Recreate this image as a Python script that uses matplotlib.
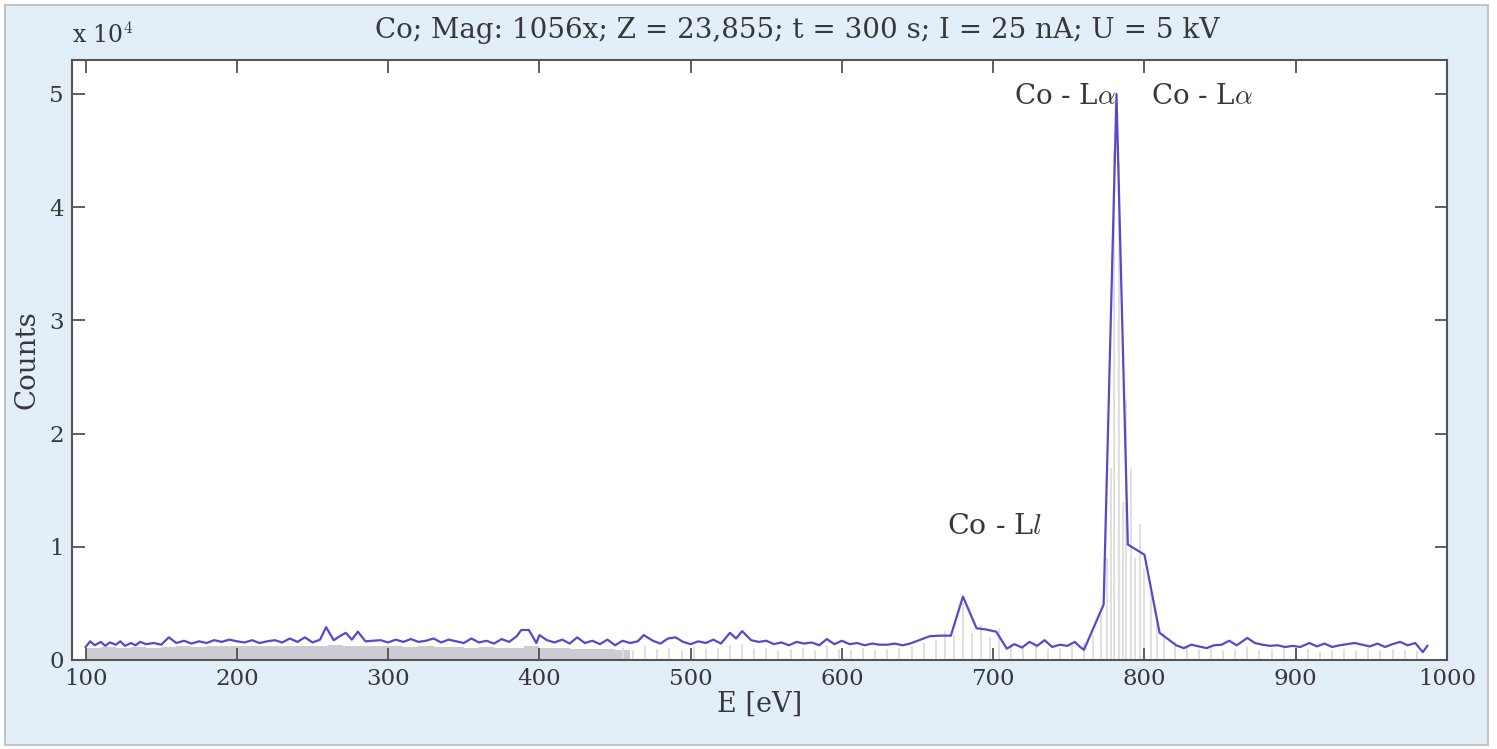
import matplotlib
matplotlib.use("Agg")
import matplotlib.pyplot as plt
from matplotlib.patches import Rectangle

# smoothed spectrum (blue line), energy in eV and counts
energy = [100, 103, 106, 110, 113, 116, 120, 123, 126, 130, 133, 136, 140, 145, 150, 155,
          160, 165, 170, 175, 180, 185, 190, 195, 200, 205, 210, 215, 220, 225, 230, 235,
          240, 245, 250, 255, 259, 264, 268, 272, 276, 280, 285, 290, 295, 300, 305, 310,
          315, 320, 325, 330, 335, 340, 345, 350, 355, 360, 365, 370, 375, 380, 385, 388,
          393, 398, 400, 405, 410, 415, 420, 425, 430, 435, 440, 445, 450, 455, 460, 465,
          469, 475, 480, 485, 490, 495, 500, 505, 510, 515, 520, 526, 530, 534, 540, 545,
          550, 555, 560, 565, 570, 575, 580, 585, 590, 595, 600, 605, 610, 615, 620, 625,
          630, 635, 640, 645, 650, 658, 665, 672, 680, 689, 695, 702, 709, 714, 719, 724,
          729, 734, 739, 744, 749, 754, 757, 760, 773, 781.5, 789, 800, 810, 815, 821, 826,
          831, 836, 841, 846, 851, 856, 861, 868, 873, 878, 883, 888, 893, 898, 903, 909,
          914, 919, 924, 929, 934, 939, 944, 949, 954, 959, 964, 969, 974, 979, 984, 987]
counts = [1150, 1650, 1300, 1600, 1250, 1550, 1350, 1650, 1250, 1500, 1300, 1600, 1400, 1500, 1350, 2000,
          1500, 1700, 1450, 1650, 1500, 1750, 1600, 1800, 1650, 1550, 1750, 1500, 1650, 1750, 1550, 1900,
          1600, 2000, 1550, 1800, 2900, 1750, 2100, 2400, 1800, 2500, 1650, 1700, 1750, 1550, 1800, 1600,
          1850, 1600, 1700, 1900, 1550, 1800, 1650, 1500, 1900, 1550, 1700, 1450, 1850, 1600, 2100, 2650,
          2650, 1500, 2200, 1750, 1550, 1800, 1450, 2000, 1500, 1700, 1400, 1800, 1300, 1700, 1500, 1650,
          2200, 1700, 1450, 1900, 2000, 1600, 1400, 1650, 1500, 1800, 1450, 2400, 1900, 2550, 1750, 1600,
          1700, 1400, 1550, 1300, 1600, 1450, 1550, 1300, 1850, 1400, 1700, 1400, 1500, 1300, 1450, 1350,
          1350, 1450, 1300, 1450, 1700, 2100, 2150, 2150, 5600, 2800, 2700, 2500, 1000, 1400, 1100, 1600,
          1250, 1750, 1150, 1350, 1250, 1600, 1200, 900, 4900, 50000, 10200, 9300, 2400, 1900, 1300, 1050,
          1350, 1200, 1050, 1300, 1350, 1700, 1300, 1950, 1500, 1350, 1250, 1300, 1150, 1250, 1150, 1500,
          1200, 1450, 1150, 1300, 1400, 1500, 1350, 1200, 1450, 1150, 1400, 1600, 1300, 1500, 700, 1250]

# raw spectrum underneath (grey)
raw_energy = [100, 110, 120, 130, 140, 150, 160, 170, 180, 190, 200, 210, 220, 230, 240, 250,
              260, 270, 280, 290, 300, 310, 320, 330, 340, 350, 360, 370, 380, 390, 400, 410,
              420, 430, 440, 450]
raw_counts = [1100, 1150, 1100, 1150, 1100, 1150, 1200, 1150, 1200, 1200, 1250, 1200, 1250, 1200, 1250, 1200,
              1300, 1250, 1250, 1200, 1200, 1150, 1200, 1150, 1150, 1100, 1150, 1100, 1100, 1200, 1100, 1050,
              1000, 1000, 950, 900]
spike_energy = [455, 462, 470, 478, 486, 494, 502, 510, 518, 526, 534, 542, 550, 558, 566, 574, 582, 590,
                598, 606, 614, 622, 630, 638, 646, 654, 662, 668, 674, 680, 686, 692, 698, 704, 712, 720,
                728, 736, 744, 752, 760, 766, 771, 775, 778, 780, 783, 786, 788, 791, 794, 797, 800, 804,
                808, 813, 820, 828, 836, 844, 852, 860, 868, 876, 884, 892, 900, 908, 916, 924, 932, 940,
                948, 956, 964, 972, 980]
spike_counts = [1100, 900, 1200, 1000, 1100, 900, 1200, 1000, 1100, 1300, 1400, 1000, 1100, 900, 1000, 1100,
                900, 1200, 1000, 900, 1100, 900, 1000, 1100, 1200, 1500, 1800, 2600, 2200, 5000, 2400, 3100,
                2000, 2800, 1400, 1100, 1200, 1000, 1100, 1300, 1500, 2200, 4000, 9000, 17000, 45000, 44000,
                14000, 23000, 17000, 9000, 12000, 8000, 6000, 3500, 2400, 1600, 1200, 1000, 1100, 900, 1000,
                1200, 900, 1000, 1100, 900, 1000, 800, 900, 1000, 900, 1100, 900, 1000, 900, 800]

y_ticks = [0, 10000, 20000, 30000, 40000, 50000]
y_tick_labels = ['0', '1', '2', '3', '4', '5']
x_ticks = [100, 200, 300, 400, 500, 600, 700, 800, 900, 1000]

plt.rcParams['font.family'] = ['DejaVu Serif']
plt.rcParams['mathtext.fontset'] = 'cm'

text_col = '#383838'
fig = plt.figure(figsize=(14.97, 7.49), dpi=100)
fig.patch.set_facecolor('white')
# light blue panel with grey frame
fig.patches.append(Rectangle((5 / 1497, 4 / 749), 1483 / 1497, 740 / 749, transform=fig.transFigure,
                             facecolor='#e2eff9', edgecolor='#c4c4c4', linewidth=1.5, zorder=-10))

ax = fig.add_axes([72 / 1497, 1 - 660 / 749, 1375 / 1497, 600 / 749])
ax.set_zorder(1)
ax.set_facecolor('white')

ax.bar(raw_energy, raw_counts, width=10, align='edge', color='#cdcbd3', linewidth=0, zorder=1)
ax.vlines(spike_energy, 0, spike_counts, color='#e0e0e0', linewidth=1.4, zorder=1)
ax.plot(energy, counts, color='#5848cc', linewidth=1.6, zorder=3)

ax.set_xlim(91, 1000)
ax.set_ylim(0, 53000)
ax.set_xticks(x_ticks)
ax.set_yticks(y_ticks)
ax.set_yticklabels(y_tick_labels)
ax.tick_params(direction='in', top=True, right=True, length=9, width=1.2, color='#444444',
               labelsize=16.5, labelcolor=text_col, pad=6)
for s in ax.spines.values():
    s.set_color('#555555')
    s.set_linewidth(1.5)

ax.set_xlabel('E [eV]', fontsize=19.5, color=text_col, labelpad=0)
ax.set_ylabel('Counts', fontsize=20, color=text_col, labelpad=6)
ax.text(0, 1.02, r'x 10$^4$', transform=ax.transAxes, fontsize=17, color=text_col, va='bottom')
fig.text(797 / 1497, 1 - 30 / 749, 'Co; Mag: 1056x; Z = 23,855; t = 300 s; I = 25 nA; U = 5 kV',
         ha='center', va='center', fontsize=20, color=text_col)

ax.text(781, 49800, r'Co - L$\alpha$', ha='right', va='center', fontsize=20, color=text_col, zorder=4)
ax.text(804, 49800, r'Co - L$\alpha$', ha='left', va='center', fontsize=20, color=text_col, zorder=4)
ax.text(701, 11800, r'Co - L$l$', ha='center', va='center', fontsize=20.5, color=text_col, zorder=4)

fig.savefig('out.png', dpi=100, facecolor=fig.get_facecolor())
